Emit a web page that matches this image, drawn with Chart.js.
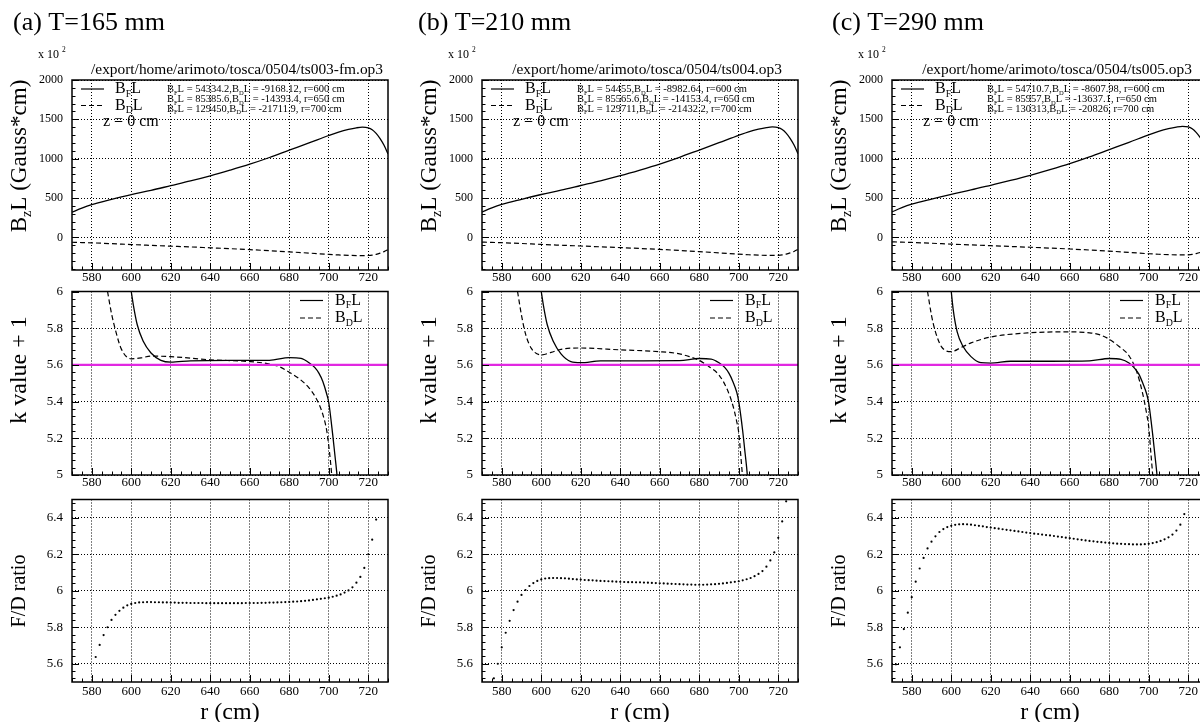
<!DOCTYPE html>
<html>
<head>
<meta charset="UTF-8">
<title>TOSCA k value scan</title>
<script src="https://cdn.jsdelivr.net/npm/chart.js"></script>
<style>
  body { margin: 0; width: 1200px; height: 722px; overflow: hidden; background: #fff; position: relative; }
  canvas { position: absolute; }
</style>
</head>
<body>
<script>
  const SERIF = "'Liberation Serif', 'Times New Roman', serif";

  // axis ticks
  const rTicks = [580, 600, 620, 640, 660, 680, 700, 720];
  const bzTicks = [0, 500, 1000, 1500, 2000];
  const kTicks = [5, 5.2, 5.4, 5.6, 5.8, 6];
  const ratioTicks = [5.6, 5.8, 6, 6.2, 6.4];

  const titles = ['(a) T=165 mm', '(b) T=210 mm', '(c) T=290 mm'];
  const files = [
    '/export/home/arimoto/tosca/0504/ts003-fm.op3',
    '/export/home/arimoto/tosca/0504/ts004.op3',
    '/export/home/arimoto/tosca/0504/ts005.op3'
  ];

  // BL printed at three radii (Gauss*cm)
  const infoR = [600, 650, 700];
  const bfInfoA = [54334.2, 85385.6, 129450];
  const bdInfoA = [-9168.12, -14393.4, -21711.9];
  const bfInfoB = [54455, 85565.6, 129711];
  const bdInfoB = [-8982.64, -14153.4, -21432.2];
  const bfInfoC = [54710.7, 85957, 130313];
  const bdInfoC = [-8607.98, -13637.1, -20826];

  // BzL along r, in units of 100 Gauss*cm
  const rBz = [570, 575, 580, 590, 600, 610, 620, 630, 640, 650, 660, 670, 680, 690, 700, 705, 710, 714, 717, 720, 722, 724, 726, 728, 730];
  const bfA = [319, 372, 416, 482, 543.342, 597, 657, 717, 782, 853.856, 930, 1015, 1108, 1200, 1294.5, 1338, 1372, 1392, 1400, 1392, 1368, 1322, 1255, 1170, 1060];
  const bdA = [-62, -66, -70, -80, -91.6812, -102, -112, -122, -133, -143.934, -156, -170, -184, -200, -217.119, -224, -229, -232, -233, -231, -226, -216, -201, -182, -155];
  const bfB = [321, 374, 418, 484, 544.55, 599, 659, 719, 784, 855.656, 932, 1017, 1110, 1203, 1297.11, 1341, 1375, 1395, 1403, 1395, 1371, 1325, 1258, 1173, 1063];
  const bdB = [-60, -64, -68, -78, -89.8264, -100, -110, -120, -130, -141.534, -153, -167, -181, -197, -214.322, -221, -226, -229, -230, -228, -223, -213, -198, -179, -152];
  const bfC = [323, 377, 421, 487, 547.107, 602, 662, 723, 788, 859.57, 936, 1022, 1115, 1208, 1303.13, 1347, 1381, 1401, 1410, 1403, 1380, 1335, 1270, 1185, 1075];
  const bdC = [-57, -61, -65, -75, -86.0798, -96, -106, -116, -126, -136.371, -148, -161, -175, -191, -208.26, -215, -220, -223, -224, -222, -217, -207, -193, -175, -150];

  // k value + 1
  const kTarget = 5.6;
  const rKF = [600, 601, 603, 606, 610, 615, 620, 630, 650, 670, 680, 686, 690, 693, 695, 697, 699, 700, 702, 703, 704, 705];
  const kFA = [6.0, 5.93, 5.82, 5.73, 5.665, 5.625, 5.615, 5.622, 5.625, 5.625, 5.64, 5.635, 5.612, 5.585, 5.555, 5.51, 5.44, 5.395, 5.22, 5.12, 5.02, 4.9];
  const kFB = [6.0, 5.93, 5.82, 5.73, 5.66, 5.618, 5.612, 5.622, 5.622, 5.623, 5.635, 5.632, 5.612, 5.585, 5.555, 5.51, 5.45, 5.40, 5.24, 5.14, 5.04, 4.92];
  const kFC = [6.0, 5.9, 5.78, 5.70, 5.645, 5.612, 5.61, 5.62, 5.62, 5.622, 5.635, 5.63, 5.61, 5.58, 5.55, 5.50, 5.44, 5.39, 5.22, 5.12, 5.02, 4.9];
  const rKD = [588, 590, 592, 595, 600, 605, 610, 620, 640, 660, 670, 675, 680, 685, 690, 694, 697, 699, 700, 701, 702];
  const kDA = [6.0, 5.88, 5.79, 5.686, 5.633, 5.638, 5.648, 5.645, 5.628, 5.618, 5.605, 5.59, 5.56, 5.525, 5.475, 5.41, 5.33, 5.24, 5.16, 5.06, 4.94];
  const kDB = [6.0, 5.87, 5.77, 5.69, 5.655, 5.668, 5.685, 5.692, 5.682, 5.672, 5.66, 5.645, 5.625, 5.59, 5.545, 5.47, 5.38, 5.29, 5.23, 5.11, 4.98];
  const kDC = [6.0, 5.87, 5.78, 5.70, 5.672, 5.695, 5.72, 5.752, 5.775, 5.78, 5.775, 5.765, 5.74, 5.70, 5.65, 5.56, 5.44, 5.33, 5.26, 5.13, 5.0];

  // F/D ratio, one sample every 2 cm from the given start radius
  const ratioStart = [582, 576, 572];
  const ratioA = [
    5.637, 5.703, 5.757, 5.80, 5.84, 5.868, 5.89, 5.907, 5.92, 5.928,
    5.933, 5.936, 5.937, 5.938, 5.938, 5.937, 5.937, 5.936, 5.936, 5.935,
    5.935, 5.934, 5.934, 5.934, 5.933, 5.933, 5.933, 5.933, 5.932, 5.932,
    5.932, 5.932, 5.932, 5.932, 5.932, 5.932, 5.932, 5.932, 5.933, 5.933,
    5.933, 5.933, 5.934, 5.934, 5.935, 5.935, 5.936, 5.937, 5.938, 5.939,
    5.94, 5.941, 5.943, 5.945, 5.947, 5.95, 5.953, 5.956, 5.959, 5.962,
    5.967, 5.973, 5.98, 5.99, 6.002, 6.019, 6.044, 6.076, 6.125, 6.2,
    6.28, 6.39
  ];
  const ratioB = [
    5.52, 5.60, 5.69, 5.77, 5.835, 5.894, 5.94, 5.977, 6.004, 6.026,
    6.042, 6.054, 6.062, 6.067, 6.069, 6.07, 6.07, 6.069, 6.068, 6.066,
    6.064, 6.062, 6.061, 6.059, 6.058, 6.057, 6.055, 6.054, 6.053, 6.052,
    6.051, 6.05, 6.049, 6.048, 6.047, 6.047, 6.046, 6.046, 6.045, 6.044,
    6.043, 6.042, 6.041, 6.04, 6.039, 6.038, 6.037, 6.036, 6.035, 6.034,
    6.034, 6.033, 6.033, 6.033, 6.034, 6.035, 6.036, 6.038, 6.04, 6.043,
    6.046, 6.049, 6.052, 6.057, 6.063, 6.07, 6.08, 6.092, 6.108, 6.132,
    6.166, 6.21, 6.29, 6.38, 6.49
  ];
  const ratioC = [
    5.597, 5.69, 5.79, 5.88, 5.965, 6.05, 6.122, 6.18, 6.232, 6.269,
    6.298, 6.322, 6.338, 6.349, 6.356, 6.361, 6.364, 6.365, 6.364, 6.362,
    6.359, 6.356, 6.353, 6.349, 6.346, 6.343, 6.34, 6.337, 6.334, 6.331,
    6.328, 6.325, 6.322, 6.319, 6.316, 6.313, 6.311, 6.308, 6.305, 6.303,
    6.3, 6.297, 6.294, 6.291, 6.288, 6.285, 6.282, 6.279, 6.276, 6.273,
    6.271, 6.268, 6.266, 6.264, 6.262, 6.26, 6.258, 6.257, 6.256, 6.255,
    6.254, 6.254, 6.254, 6.255, 6.257, 6.261, 6.266, 6.273, 6.282, 6.293,
    6.308, 6.33, 6.362, 6.42
  ];

  const columns = [
    { bf: bfA, bd: bdA, bfInfo: bfInfoA, bdInfo: bdInfoA, kF: kFA, kD: kDA, ratio: ratioA },
    { bf: bfB, bd: bdB, bfInfo: bfInfoB, bdInfo: bdInfoB, kF: kFB, kD: kDB, ratio: ratioB },
    { bf: bfC, bd: bdC, bfInfo: bfInfoC, bdInfo: bdInfoC, kF: kFC, kD: kDC, ratio: ratioC }
  ];

  // page layout
  const colLeft = [0, 410, 820];
  const titleX = [13, 8, 12];
  const rows = [
    { top: 0, height: 286, padTop: 80, axisH: 16 },
    { top: 276, height: 215, padTop: 10, axisH: 16 },
    { top: 484, height: 238, padTop: 10, axisH: 40 }
  ];

  function pts(rs, vs) {
    return vs.map((v, i) => ({ x: rs[i], y: v }));
  }

  // text with sub/superscripts: parts = [[text, 'sub'|'sup'|undefined], ...]
  function richText(ctx, parts, x, y, size, align) {
    const fontFor = k => `${k ? size * 0.62 : size}px ${SERIF}`;
    let total = 0;
    parts.forEach(([t, k]) => { ctx.font = fontFor(k); total += ctx.measureText(t).width; });
    let cx = align === 'center' ? x - total / 2 : x;
    ctx.textAlign = 'left';
    ctx.textBaseline = 'middle';
    parts.forEach(([t, k]) => {
      ctx.font = fontFor(k);
      const dy = k === 'sub' ? size * 0.32 : k === 'sup' ? -size * 0.38 : 0;
      ctx.fillText(t, cx, y + dy);
      cx += ctx.measureText(t).width;
    });
  }

  function legendLine(ctx, x1, x2, y, dash) {
    ctx.save();
    ctx.strokeStyle = '#000';
    ctx.lineWidth = 1.2;
    ctx.setLineDash(dash);
    ctx.beginPath();
    ctx.moveTo(x1, y);
    ctx.lineTo(x2, y);
    ctx.stroke();
    ctx.restore();
  }

  // frame, inside tick marks and rotated y title, ROOT style
  const rootFrame = {
    id: 'rootFrame',
    afterDraw(chart, args, o) {
      const { ctx, chartArea: a, scales: { x, y } } = chart;
      ctx.save();
      ctx.strokeStyle = '#000';
      ctx.lineWidth = 1;
      ctx.beginPath();
      for (let i = Math.ceil(x.min / o.xMinor); i * o.xMinor <= x.max + 1e-9; i++) {
        const v = i * o.xMinor;
        const major = Math.abs(v / o.xMajor - Math.round(v / o.xMajor)) < 1e-6;
        const px = Math.round(x.getPixelForValue(v)) + 0.5;
        ctx.moveTo(px, a.bottom);
        ctx.lineTo(px, a.bottom - (major ? 7 : 3.5));
      }
      for (let i = Math.ceil(y.min / o.yMinor - 1e-9); i * o.yMinor <= y.max + 1e-9; i++) {
        const v = i * o.yMinor;
        const major = Math.abs(v / o.yMajor - Math.round(v / o.yMajor)) < 1e-6;
        const py = Math.round(y.getPixelForValue(v)) + 0.5;
        ctx.moveTo(a.left, py);
        ctx.lineTo(a.left + (major ? 7 : 3.5), py);
      }
      ctx.stroke();
      ctx.lineWidth = 1.5;
      ctx.strokeRect(a.left, a.top, a.right - a.left, a.bottom - a.top);

      ctx.fillStyle = '#000';
      ctx.translate(a.left - 52, o.titleY);
      ctx.rotate(-Math.PI / 2);
      richText(ctx, o.title, 0, 0, o.titleSize, 'center');
      ctx.restore();
    }
  };

  function axisX(row) {
    return {
      type: 'linear', min: 570, max: 730,
      afterBuildTicks: s => { s.ticks = rTicks.map(v => ({ value: v })); },
      afterFit: s => { s.height = rows[row].axisH; },
      grid: { color: '#000', lineWidth: 1, drawTicks: false },
      border: { display: false, dash: [1, 2] },
      ticks: {
        color: '#000', font: { family: SERIF, size: 13, lineHeight: 1 },
        padding: row === 2 ? 3.5 : 1, maxRotation: 0, autoSkip: false
      },
      title: {
        display: row === 2, text: 'r (cm)', color: '#000',
        font: { family: SERIF, size: 24, lineHeight: 0.75 }, padding: 0
      }
    };
  }

  function axisY(min, max, ticks, labelSize) {
    return {
      type: 'linear', min: min, max: max,
      afterBuildTicks: s => { s.ticks = ticks.map(v => ({ value: v })); },
      afterFit: s => { s.width = 72; },
      grid: { color: '#000', lineWidth: 1, drawTicks: false },
      border: { display: false, dash: [1, 2] },
      ticks: {
        color: '#000', font: { family: SERIF, size: labelSize, lineHeight: 1 },
        padding: 9, autoSkip: false,
        callback: v => String(Math.round(v * 10) / 10)
      }
    };
  }

  function solid(data) {
    return { data, borderColor: '#000', borderWidth: 1.3, pointRadius: 0, cubicInterpolationMode: 'monotone', fill: false };
  }
  function dashed(data) {
    return { data, borderColor: '#000', borderWidth: 1.2, borderDash: [5, 3], pointRadius: 0, cubicInterpolationMode: 'monotone', fill: false };
  }

  function makeCanvas(col, row) {
    const c = document.createElement('canvas');
    c.width = 400;
    c.height = rows[row].height;
    c.style.left = colLeft[col] + 'px';
    c.style.top = rows[row].top + 'px';
    document.body.appendChild(c);
    return c;
  }

  function baseOptions(row, scales, frame) {
    return {
      responsive: false,
      animation: false,
      layout: { padding: { top: rows[row].padTop, right: 12, bottom: 0, left: 0 } },
      plugins: { legend: { display: false }, tooltip: { enabled: false }, rootFrame: frame },
      scales
    };
  }

  columns.forEach((c, col) => {
    // BzL
    const topNotes = {
      id: 'topNotes',
      afterDraw(chart) {
        const ctx = chart.ctx, a = chart.chartArea;
        ctx.save();
        ctx.fillStyle = '#000';
        ctx.textBaseline = 'middle';
        ctx.textAlign = 'left';
        ctx.font = `26px ${SERIF}`;
        ctx.fillText(titles[col], titleX[col], 23);
        richText(ctx, [['x 10 '], ['2', 'sup']], a.left - 34, 55, 12);
        ctx.font = `15.4px ${SERIF}`;
        ctx.textAlign = 'center';
        ctx.fillText(files[col], (a.left + a.right) / 2 + 7, 70);

        legendLine(ctx, a.left + 9, a.left + 32, 89, []);
        legendLine(ctx, a.left + 9, a.left + 32, 105.5, [5, 3]);
        richText(ctx, [['B'], ['F', 'sub'], ['L']], a.left + 43, 89, 16);
        richText(ctx, [['B'], ['D', 'sub'], ['L']], a.left + 43, 105.5, 16);
        richText(ctx, [['z = 0 cm']], a.left + 31, 122, 16);

        const lineY = [89.5, 99.5, 109];
        infoR.forEach((r, i) => {
          richText(ctx, [
            ['B'], ['F', 'sub'], ['L = ' + c.bfInfo[i] + ','],
            ['B'], ['D', 'sub'], ['L = ' + c.bdInfo[i] + ', r=' + r + ' cm']
          ], a.left + 95, lineY[i], 10.5);
        });
        ctx.restore();
      }
    };
    new Chart(makeCanvas(col, 0), {
      type: 'line',
      data: { datasets: [solid(pts(rBz, c.bf)), dashed(pts(rBz, c.bd))] },
      options: baseOptions(0, { x: axisX(0), y: axisY(-415, 2000, bzTicks, 12) }, {
        xMinor: 5, xMajor: 20, yMinor: 100, yMajor: 500,
        title: [['B'], ['z', 'sub'], ['L (Gauss*cm)']], titleY: 156, titleSize: 23
      }),
      plugins: [rootFrame, topNotes]
    });

    // k value + 1
    const kLegend = {
      id: 'kLegend',
      afterDraw(chart) {
        const ctx = chart.ctx, a = chart.chartArea;
        ctx.save();
        ctx.fillStyle = '#000';
        legendLine(ctx, a.right - 88, a.right - 65, a.top + 9, []);
        legendLine(ctx, a.right - 88, a.right - 65, a.top + 26.5, [5, 3]);
        richText(ctx, [['B'], ['F', 'sub'], ['L']], a.right - 53, a.top + 9, 16);
        richText(ctx, [['B'], ['D', 'sub'], ['L']], a.right - 53, a.top + 26.5, 16);
        ctx.restore();
      }
    };
    new Chart(makeCanvas(col, 1), {
      type: 'line',
      data: {
        datasets: [
          { data: [{ x: 570, y: kTarget }, { x: 730, y: kTarget }], borderColor: 'rgb(225, 40, 225)', borderWidth: 2.2, pointRadius: 0 },
          solid(pts(rKF, c.kF)),
          dashed(pts(rKD, c.kD))
        ]
      },
      options: baseOptions(1, { x: axisX(1), y: axisY(5, 6, kTicks, 13) }, {
        xMinor: 5, xMajor: 20, yMinor: 0.04, yMajor: 0.2,
        title: [['k value + 1']], titleY: 370 - rows[1].top, titleSize: 24
      }),
      plugins: [rootFrame, kLegend]
    });

    // F/D ratio
    const rRatio = c.ratio.map((v, i) => ratioStart[col] + 2 * i);
    new Chart(makeCanvas(col, 2), {
      type: 'line',
      data: {
        datasets: [{
          data: pts(rRatio, c.ratio), showLine: false,
          pointRadius: 1.1, pointBorderWidth: 0, pointBackgroundColor: '#000', pointStyle: 'circle'
        }]
      },
      options: baseOptions(2, { x: axisX(2), y: axisY(5.5, 6.5, ratioTicks, 13) }, {
        xMinor: 5, xMajor: 20, yMinor: 0.04, yMajor: 0.2,
        title: [['F/D ratio']], titleY: 591 - rows[2].top, titleSize: 20
      }),
      plugins: [rootFrame]
    });
  });
</script>
</body>
</html>
